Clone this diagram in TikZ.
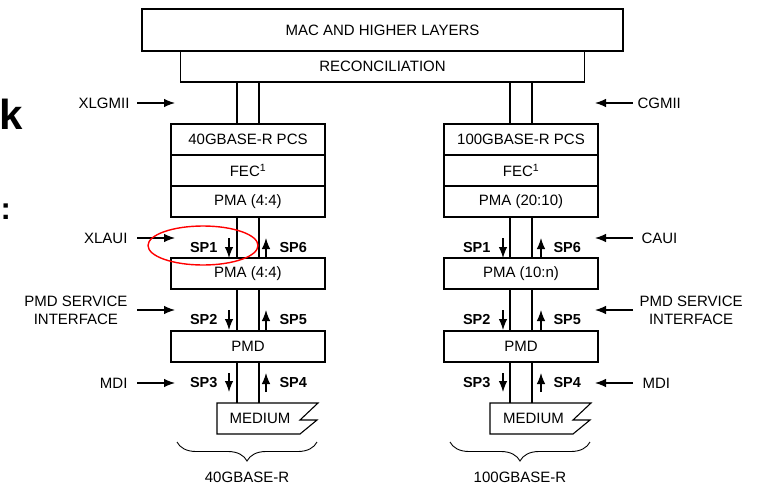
\documentclass[tikz,border=0pt]{standalone}
\usepackage{fontspec}
\setmainfont{Liberation Sans}
\usepackage{tikz}
\usetikzlibrary{arrows.meta, positioning, decorations.pathreplacing}

\begin{document}
\begin{tikzpicture}[
    x=1pt, y=-1pt,
    font=\fontsize{15}{18}\selectfont,
    node distance=0pt,
    >=Latex,
    line width=1.1pt,
    box/.style={
        draw,
        align=center,
        inner sep=0pt,
        outer sep=0pt,
        minimum height=31pt
    },
    layer/.style={
        box,
        minimum width=154pt
    },
    medium/.style={
        inner sep=0pt,
        outer sep=0pt,
        minimum height=31pt
    },
    iface/.style={
        inner sep=0pt,
        align=center
    },
    sp/.style={
        inner sep=0pt,
        font=\fontsize{14.5}{16}\selectfont\bfseries
    },
    line/.style={
        -{Latex[length=11pt,width=8.5pt]},
        line width=1.1pt
    },
    brace/.style={
        decorate,
        decoration={brace, mirror, amplitude=19pt, aspect=0.5},
        line width=0.9pt
    }
]
\useasboundingbox (0,0) rectangle (758,485);

% Slide title remains
\node[anchor=base west, inner sep=0pt, font=\fontsize{42}{42}\selectfont\bfseries] (titlek) at (-1,129) {k};
\node[anchor=base west, inner sep=0pt, font=\fontsize{31}{31}\selectfont\bfseries] (titlecolon) at (0,219) {:};

% Top layers
\node[box, minimum width=481pt, minimum height=42pt] (mac) at (382.5,30) {MAC AND HIGHER LAYERS};
\node[box, minimum width=404pt, below=of mac] (recon) {RECONCILIATION};

% 40G stack
\node[layer] (pcsL) at (248,139.5) {40GBASE-R PCS};
\node[layer, below=of pcsL] (fecL) {FEC\textsuperscript{1}};
\node[layer, below=of fecL] (pmaL) {PMA (4:4)};
\node[layer, below=41pt of pmaL] (pmaL2) {PMA (4:4)};
\node[layer, below=42pt of pmaL2] (pmdL) {PMD};
\node[medium, below=41pt of pmdL, xshift=12pt] (medL) {MEDIUM};

% 100G stack
\node[layer] (pcsR) at (521,139.5) {100GBASE-R PCS};
\node[layer, below=of pcsR] (fecR) {FEC\textsuperscript{1}};
\node[layer, below=of fecR] (pmaR) {PMA (20:10)};
\node[layer, below=41pt of pmaR] (pmaR2) {PMA (10:n)};
\node[layer, below=42pt of pmaR2] (pmdR) {PMD};
\node[medium, below=41pt of pmdR, xshift=12.5pt] (medR) {MEDIUM};

% Medium outlines
\draw (217,403) -- (318,403) -- (300,420) -- (317,420) -- (300,434) -- (217,434) -- cycle;
\draw (490,403) -- (591,403) -- (573,420) -- (590,420) -- (573,434) -- (490,434) -- cycle;

% Data paths, 40G
\draw ([xshift=-11pt]pcsL.north) -- ([xshift=-11pt]pcsL.north |- recon.south);
\draw ([xshift=11pt]pcsL.north) -- ([xshift=11pt]pcsL.north |- recon.south);
\draw ([xshift=-11pt]pmaL.south) -- ([xshift=-11pt]pmaL2.north);
\draw ([xshift=11pt]pmaL.south) -- ([xshift=11pt]pmaL2.north);
\draw ([xshift=-11pt]pmaL2.south) -- ([xshift=-11pt]pmdL.north);
\draw ([xshift=11pt]pmaL2.south) -- ([xshift=11pt]pmdL.north);
\draw ([xshift=-11pt]pmdL.south) -- ([xshift=-11pt]pmdL.south |- medL.north);
\draw ([xshift=11pt]pmdL.south) -- ([xshift=11pt]pmdL.south |- medL.north);

% Data paths, 100G
\draw ([xshift=-11pt]pcsR.north) -- ([xshift=-11pt]pcsR.north |- recon.south);
\draw ([xshift=11pt]pcsR.north) -- ([xshift=11pt]pcsR.north |- recon.south);
\draw ([xshift=-11pt]pmaR.south) -- ([xshift=-11pt]pmaR2.north);
\draw ([xshift=11pt]pmaR.south) -- ([xshift=11pt]pmaR2.north);
\draw ([xshift=-11pt]pmaR2.south) -- ([xshift=-11pt]pmdR.north);
\draw ([xshift=11pt]pmaR2.south) -- ([xshift=11pt]pmdR.north);
\draw ([xshift=-11pt]pmdR.south) -- ([xshift=-11pt]pmdR.south |- medR.north);
\draw ([xshift=11pt]pmdR.south) -- ([xshift=11pt]pmdR.south |- medR.north);

% Service points, 40G
\draw[line] ([xshift=-19pt,yshift=20pt]pmaL2.north) -- node[sp, left=11pt] {SP1} ([xshift=-19pt]pmaL2.north);
\draw[line] ([xshift=18pt]pmaL2.north) -- node[sp, right=13pt] {SP6} ([xshift=18pt,yshift=20pt]pmaL2.north);
\draw[line] ([xshift=-19pt,yshift=21pt]pmdL.north) -- node[sp, left=11pt] {SP2} ([xshift=-19pt,yshift=1pt]pmdL.north);
\draw[line] ([xshift=18pt,yshift=1pt]pmdL.north) -- node[sp, right=13pt] {SP5} ([xshift=18pt,yshift=21pt]pmdL.north);
\draw[line] ([xshift=-19pt,yshift=-11pt]pmdL.south) -- node[sp, left=11pt] {SP3} ([xshift=-19pt,yshift=-30pt]pmdL.south);
\draw[line] ([xshift=18pt,yshift=-30pt]pmdL.south) -- node[sp, right=13pt] {SP4} ([xshift=18pt,yshift=-11pt]pmdL.south);

% Service points, 100G
\draw[line] ([xshift=-18pt,yshift=20pt]pmaR2.north) -- node[sp, left=12pt] {SP1} ([xshift=-18pt]pmaR2.north);
\draw[line] ([xshift=20pt]pmaR2.north) -- node[sp, right=12pt] {SP6} ([xshift=20pt,yshift=20pt]pmaR2.north);
\draw[line] ([xshift=-18pt,yshift=21pt]pmdR.north) -- node[sp, left=12pt] {SP2} ([xshift=-18pt,yshift=1pt]pmdR.north);
\draw[line] ([xshift=20pt,yshift=1pt]pmdR.north) -- node[sp, right=12pt] {SP5} ([xshift=20pt,yshift=21pt]pmdR.north);
\draw[line] ([xshift=-18pt,yshift=-11pt]pmdR.south) -- node[sp, left=12pt] {SP3} ([xshift=-18pt,yshift=-30pt]pmdR.south);
\draw[line] ([xshift=20pt,yshift=-30pt]pmdR.south) -- node[sp, right=12pt] {SP4} ([xshift=20pt,yshift=-11pt]pmdR.south);

% Interface labels, left
\node[iface, anchor=east] (xlgmii) at (130,103) {XLGMII};
\node[iface, anchor=east] (xlaui) at (128,238) {XLAUI};
\node[iface, anchor=east] (pmdsiL) at (128,310) {PMD SERVICE\\INTERFACE};
\node[iface, anchor=east] (mdiL) at (128,383) {MDI};

% Interface labels, right
\node[iface, anchor=west] (cgmii) at (637,103) {CGMII};
\node[iface, anchor=west] (caui) at (641,238) {CAUI};
\node[iface, anchor=west] (pmdsiR) at (639,310) {PMD SERVICE\\INTERFACE};
\node[iface, anchor=west] (mdiR) at (642,383) {MDI};

% Interface arrows
\draw[line] ([xshift=7pt]xlgmii.east) -- ([xshift=4pt]xlgmii.east -| pcsL.west);
\draw[line] ([xshift=9pt]xlaui.east) -- ([xshift=4pt]xlaui.east -| pcsL.west);
\draw[line] ([xshift=9pt]pmdsiL.east) -- ([xshift=4pt]pmdsiL.east -| pcsL.west);
\draw[line] ([xshift=9pt]mdiL.east) -- ([xshift=4pt]mdiL.east -| pcsL.west);
\draw[line] ([xshift=-4pt]cgmii.west) -- ([xshift=-3pt]cgmii.west -| pcsR.east);
\draw[line] ([xshift=-8pt]caui.west) -- ([xshift=-3pt]caui.west -| pcsR.east);
\draw[line] ([xshift=-6pt]pmdsiR.west) -- ([xshift=-3pt]pmdsiR.west -| pcsR.east);
\draw[line] ([xshift=-9pt]mdiR.west) -- ([xshift=-3pt]mdiR.west -| pcsR.east);

% Highlight
\draw[red, line width=1.4pt] (203,245.5) ellipse [x radius=55pt, y radius=19.5pt];

% Braces
\draw[brace] (177,442) -- (317,442);
\draw[brace] (450,442) -- (590,442);
\node[iface] (rate40) at (247,477) {40GBASE-R};
\node[iface] (rate100) at (520,477) {100GBASE-R};

\end{tikzpicture}
\end{document}
